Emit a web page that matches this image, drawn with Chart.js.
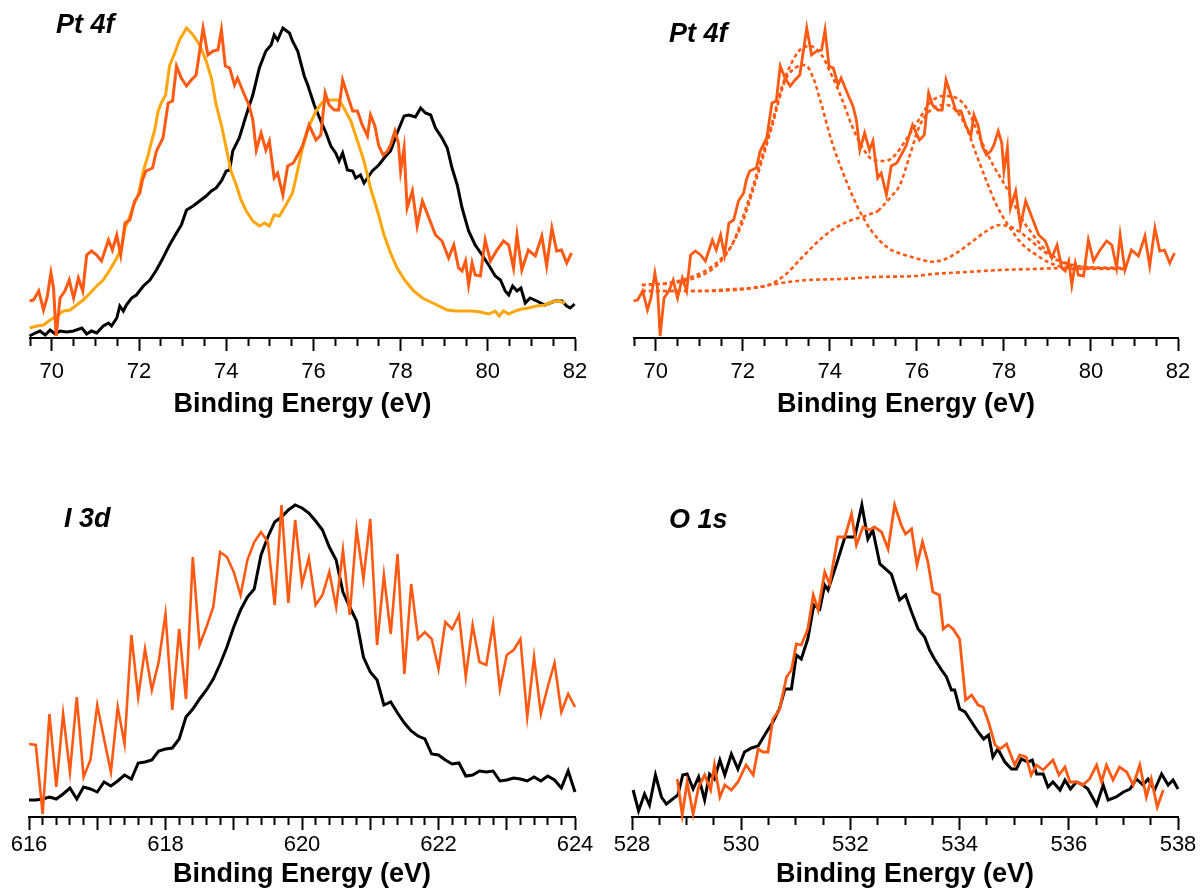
<!DOCTYPE html>
<html>
<head>
<meta charset="utf-8">
<title>XPS spectra</title>
<script src="https://cdn.jsdelivr.net/npm/chart.js@4.4.1/dist/chart.umd.min.js"></script>
<style>
  html, body { margin: 0; padding: 0; background: #fff; }
  body { width: 1202px; height: 896px; position: relative; overflow: hidden; }
  canvas { position: absolute; }
</style>
</head>
<body>
<canvas id="ptCompare" width="601" height="430" style="left:0;top:0"></canvas>
<canvas id="ptFit" width="601" height="430" style="left:601px;top:0"></canvas>
<canvas id="iodine" width="601" height="416" style="left:0;top:480px"></canvas>
<canvas id="oxygen" width="601" height="416" style="left:601px;top:480px"></canvas>
<script>
// Pt 4f, I 3d and O 1s XPS spectra: [binding energy (eV), intensity (a.u.)]

const ptRef = [[69.49,2],[69.62,5],[69.73,7],[69.85,3],[69.96,8],[70.08,4],[70.19,7],[70.34,6],[70.5,7],[70.69,10],[70.8,4],[70.91,7],[71.03,5],[71.18,12],[71.3,15],[71.37,12],[71.49,20],[71.56,32],[71.64,27],[71.71,33],[71.83,40],[71.94,43],[72.1,52],[72.25,58],[72.4,68],[72.55,80],[72.7,93],[72.86,105],[72.97,113],[73.09,128],[73.24,132],[73.39,137],[73.54,142],[73.66,147],[73.77,150],[73.89,157],[74.0,167],[74.08,168],[74.15,187],[74.3,200],[74.46,223],[74.61,243],[74.76,270],[74.91,287],[75.03,293],[75.1,303],[75.18,298],[75.3,310],[75.45,305],[75.52,297],[75.64,287],[75.79,262],[75.87,253],[76.02,233],[76.17,217],[76.29,205],[76.4,192],[76.51,185],[76.59,177],[76.67,185],[76.78,168],[76.9,167],[76.97,160],[77.08,163],[77.16,155],[77.24,160],[77.35,167],[77.5,173],[77.66,182],[77.77,187],[77.92,205],[78.08,222],[78.19,223],[78.34,221],[78.46,230],[78.57,225],[78.69,223],[78.8,210],[78.95,200],[79.07,190],[79.18,170],[79.3,153],[79.41,130],[79.56,107],[79.71,93],[79.87,83],[80.02,73],[80.17,62],[80.29,58],[80.4,47],[80.48,43],[80.57,52],[80.67,47],[80.76,50],[80.86,35],[80.97,40],[81.12,37],[81.31,33],[81.54,37],[81.7,37],[81.81,32],[81.89,30],[81.99,34]];

const ptSample = [[69.49,37],[69.58,38],[69.7,47],[69.81,28],[69.89,40],[69.98,65],[70.04,50],[70.1,2],[70.19,40],[70.3,47],[70.4,58],[70.5,40],[70.61,60],[70.71,47],[70.8,83],[70.91,87],[71.03,83],[71.14,77],[71.3,98],[71.39,88],[71.49,103],[71.58,83],[71.68,115],[71.79,118],[71.9,137],[72.02,145],[72.08,158],[72.16,167],[72.31,170],[72.4,187],[72.55,200],[72.67,235],[72.77,237],[72.86,272],[72.97,260],[73.09,252],[73.2,258],[73.31,263],[73.47,310],[73.58,283],[73.7,287],[73.81,288],[73.89,308],[73.98,272],[74.08,270],[74.19,253],[74.26,260],[74.42,243],[74.53,232],[74.61,218],[74.69,188],[74.8,205],[74.91,188],[74.99,197],[75.1,160],[75.18,165],[75.3,143],[75.41,172],[75.54,175],[75.64,183],[75.75,192],[75.9,213],[76.06,198],[76.17,203],[76.27,245],[76.36,233],[76.48,228],[76.58,228],[76.67,258],[76.78,243],[76.9,227],[77.01,227],[77.12,213],[77.24,202],[77.31,223],[77.41,212],[77.5,192],[77.6,183],[77.7,187],[77.77,193],[77.87,207],[77.95,195],[78.0,167],[78.08,190],[78.15,130],[78.27,147],[78.38,112],[78.5,137],[78.65,120],[78.8,103],[78.95,97],[79.1,80],[79.22,93],[79.33,70],[79.41,67],[79.49,77],[79.56,53],[79.64,75],[79.71,63],[79.83,62],[79.94,98],[80.06,77],[80.21,88],[80.36,97],[80.48,93],[80.59,70],[80.67,103],[80.78,68],[80.93,88],[81.09,82],[81.24,102],[81.35,72],[81.47,110],[81.58,87],[81.69,88],[81.81,75],[81.92,85]];

const ptAnnealed = [[69.49,10],[69.66,12],[69.81,13],[69.96,18],[70.11,22],[70.27,27],[70.42,28],[70.57,33],[70.72,38],[70.88,45],[71.03,52],[71.18,58],[71.33,68],[71.49,80],[71.6,90],[71.68,110],[71.75,117],[71.87,132],[71.98,143],[72.1,167],[72.21,183],[72.29,197],[72.36,208],[72.44,227],[72.51,235],[72.61,243],[72.7,272],[72.82,285],[72.93,298],[73.09,310],[73.24,303],[73.39,293],[73.54,277],[73.66,260],[73.77,233],[73.89,213],[74.0,190],[74.11,167],[74.23,153],[74.34,138],[74.46,127],[74.61,117],[74.76,112],[74.88,115],[74.99,112],[75.1,123],[75.22,122],[75.37,133],[75.52,145],[75.6,160],[75.75,190],[75.9,212],[76.06,227],[76.21,236],[76.36,238],[76.59,238],[76.7,230],[76.86,217],[77.01,197],[77.16,177],[77.31,150],[77.47,127],[77.62,103],[77.77,85],[77.92,70],[78.11,57],[78.3,47],[78.5,40],[78.69,36],[78.88,32],[79.07,28],[79.26,27],[79.45,27],[79.64,27],[79.83,26],[80.02,24],[80.17,27],[80.26,22],[80.36,27],[80.48,24],[80.63,27],[80.78,29],[80.93,30],[81.12,32],[81.31,33],[81.47,36],[81.62,37],[81.77,35]];

// Pt 4f peak fit of the sample spectrum
const fitBackground = [[69.68,47],[70.83,47],[71.82,48],[72.36,51],[72.89,55],[73.5,58],[74.27,59],[75.04,61],[75.95,62],[76.38,64],[77.14,66],[77.91,68],[78.67,69],[79.44,70],[80.2,70],[80.81,70]];
const fitEnvelope = [[69.68,53],[70.29,55],[70.75,60],[71.13,67],[71.52,80],[71.75,93],[71.97,117],[72.2,147],[72.43,180],[72.66,213],[72.89,250],[73.12,275],[73.31,288],[73.54,292],[73.81,283],[74.04,263],[74.27,240],[74.5,213],[74.73,192],[75.0,178],[75.27,177],[75.5,183],[75.73,197],[76.07,220],[76.3,235],[76.6,242],[76.91,240],[77.14,230],[77.45,200],[77.75,173],[78.06,150],[78.36,123],[78.67,103],[78.98,87],[79.28,78],[79.59,73],[80.2,70],[80.81,69]];
const fitPeak1 = [[69.68,53],[70.75,58],[71.52,78],[71.97,113],[72.2,143],[72.66,210],[72.97,257],[73.2,270],[73.43,273],[73.62,260],[73.81,233],[74.04,197],[74.35,160],[74.65,130],[74.96,107],[75.34,90],[75.8,82],[76.3,76]];
const fitPeak2 = [[69.68,47],[71.0,47],[71.82,49],[72.2,50],[72.59,53],[72.97,63],[73.35,80],[73.74,97],[74.12,110],[74.5,118],[74.81,122],[75.11,127]];
const fitPeak3 = [[75.11,127],[75.42,142],[75.61,153],[75.84,183],[76.07,213],[76.38,230],[76.68,233],[76.91,227],[77.14,210],[77.37,183],[77.6,157],[77.83,133],[78.14,110],[78.44,93],[78.75,83],[79.06,75],[79.44,70],[79.8,69],[80.81,69]];
const fitPeak4 = [[76.3,76],[76.6,78],[76.91,85],[77.29,97],[77.6,107],[77.91,113],[78.21,110],[78.52,101],[78.82,90],[79.13,80],[79.44,74],[79.74,71],[80.81,70]];

const i3dRef = [[616.0,17],[616.1,17],[616.2,18],[616.3,20],[616.4,18],[616.5,23],[616.6,29],[616.7,18],[616.8,30],[616.9,28],[617.0,25],[617.1,35],[617.2,31],[617.3,36],[617.4,42],[617.5,38],[617.6,54],[617.7,55],[617.8,57],[617.9,66],[618.0,68],[618.1,69],[618.2,78],[618.3,100],[618.4,108],[618.5,118],[618.6,127],[618.7,138],[618.8,153],[618.9,170],[619.0,190],[619.1,207],[619.2,220],[619.3,228],[619.4,262],[619.5,280],[619.6,295],[619.7,300],[619.8,307],[619.9,312],[620.0,309],[620.1,304],[620.2,296],[620.3,287],[620.4,270],[620.5,257],[620.6,225],[620.7,210],[620.8,196],[620.9,160],[621.0,145],[621.1,137],[621.2,112],[621.3,115],[621.4,104],[621.5,94],[621.6,86],[621.7,81],[621.8,78],[621.9,63],[622.0,62],[622.1,57],[622.2,53],[622.3,54],[622.4,41],[622.5,42],[622.6,46],[622.7,45],[622.8,46],[622.9,36],[623.0,37],[623.1,39],[623.2,38],[623.3,36],[623.4,40],[623.5,36],[623.6,41],[623.7,37],[623.8,29],[623.9,46],[624.0,25]];

const i3dSample = [[616.0,73],[616.1,72],[616.2,3],[616.3,103],[616.4,30],[616.5,103],[616.6,45],[616.7,120],[616.8,40],[616.9,57],[617.0,112],[617.1,78],[617.2,45],[617.3,110],[617.4,73],[617.5,182],[617.6,120],[617.7,168],[617.8,127],[617.9,155],[618.0,203],[618.1,107],[618.2,188],[618.3,118],[618.4,260],[618.5,172],[618.6,190],[618.7,210],[618.8,265],[618.9,260],[619.0,245],[619.1,222],[619.2,257],[619.3,275],[619.4,285],[619.5,275],[619.6,212],[619.7,312],[619.8,214],[619.9,297],[620.0,233],[620.1,259],[620.2,212],[620.3,222],[620.4,245],[620.5,210],[620.6,267],[620.7,202],[620.8,288],[620.9,238],[621.0,298],[621.1,172],[621.2,242],[621.3,183],[621.4,263],[621.5,143],[621.6,233],[621.7,178],[621.8,185],[621.9,178],[622.0,148],[622.1,195],[622.2,188],[622.3,202],[622.4,140],[622.5,192],[622.6,155],[622.7,152],[622.8,193],[622.9,128],[623.0,162],[623.1,167],[623.2,178],[623.3,100],[623.4,160],[623.5,103],[623.6,130],[623.7,154],[623.8,105],[623.9,123],[624.0,110]];

const o1sRef = [[528.02,27],[528.12,6],[528.23,23],[528.32,12],[528.43,42],[528.54,20],[528.63,13],[528.84,22],[528.93,42],[529.01,43],[529.12,28],[529.22,40],[529.33,17],[529.42,43],[529.51,38],[529.61,57],[529.7,42],[529.82,63],[529.94,48],[530.06,65],[530.19,69],[530.31,71],[530.43,82],[530.58,95],[530.7,108],[530.8,128],[530.92,128],[531.01,162],[531.1,158],[531.22,178],[531.33,212],[531.44,208],[531.53,232],[531.59,227],[531.74,252],[531.9,280],[532.08,280],[532.21,312],[532.32,278],[532.41,287],[532.54,253],[532.75,243],[532.9,217],[533.01,222],[533.12,205],[533.24,188],[533.36,180],[533.45,167],[533.54,158],[533.67,147],[533.76,140],[533.85,127],[533.91,127],[534.0,108],[534.1,105],[534.22,95],[534.34,85],[534.44,78],[534.53,82],[534.61,60],[534.7,68],[534.83,55],[534.95,48],[535.04,48],[535.13,58],[535.25,55],[535.33,57],[535.41,43],[535.53,43],[535.62,30],[535.71,35],[535.84,27],[535.93,37],[536.03,28],[536.14,35],[536.23,33],[536.35,28],[536.51,12],[536.63,32],[536.72,17],[536.87,20],[537.0,25],[537.12,28],[537.24,38],[537.36,32],[537.45,38],[537.57,27],[537.7,43],[537.82,32],[537.91,37],[538.0,28]];

const o1sSample = [[528.83,38],[528.92,2],[529.01,35],[529.12,3],[529.22,30],[529.33,42],[529.44,27],[529.51,52],[529.61,20],[529.7,32],[529.82,27],[529.94,35],[530.09,52],[530.22,42],[530.31,68],[530.4,65],[530.49,65],[530.58,98],[530.7,107],[530.83,140],[530.92,147],[531.01,173],[531.1,172],[531.22,188],[531.32,222],[531.41,207],[531.53,245],[531.62,233],[531.77,280],[531.9,280],[532.02,303],[532.11,272],[532.23,290],[532.35,287],[532.44,290],[532.57,285],[532.69,268],[532.81,312],[532.93,292],[533.01,283],[533.12,288],[533.22,252],[533.32,275],[533.42,255],[533.51,225],[533.63,222],[533.7,188],[533.79,192],[533.88,188],[534.0,178],[534.06,145],[534.11,117],[534.22,122],[534.34,112],[534.43,110],[534.53,95],[534.65,72],[534.74,68],[534.86,73],[535.01,52],[535.1,62],[535.22,60],[535.31,42],[535.41,52],[535.53,47],[535.71,57],[535.82,42],[535.93,50],[536.02,35],[536.14,35],[536.26,32],[536.38,38],[536.51,52],[536.6,35],[536.69,52],[536.81,37],[536.93,50],[537.06,45],[537.18,32],[537.3,52],[537.42,20],[537.51,38],[537.62,10],[537.73,27]];

const BLACK = '#000000';
const ORANGE = '#ff5a14';
const AMBER = '#ffa60d';
const FONT = '"Liberation Sans", Arial, Helvetica, sans-serif';

const pts = arr => arr.map(([x, y]) => ({ x, y }));

function trace(data, color, width) {
  return { data: pts(data), borderColor: color, borderWidth: width, pointRadius: 0, tension: 0, fill: false, clip: 6 };
}

function fitCurve(data) {
  return {
    data: pts(data), borderColor: ORANGE, borderWidth: 2.6, borderDash: [4, 3],
    pointRadius: 0, tension: 0.4, cubicInterpolationMode: 'monotone', fill: false, clip: 6
  };
}

const onStep = (v, step) => Math.abs(v / step - Math.round(v / step)) < 1e-6;

function energyAxis(min, max, step, majorEvery, labelPad, height, titlePad) {
  return {
    type: 'linear', min, max,
    afterBuildTicks: s => {
      const t = [];
      for (let v = min; v <= max + 1e-9; v += step) t.push({ value: +v.toFixed(2) });
      s.ticks = t;
    },
    afterFit: s => { s.height = height; },
    border: { display: true, color: BLACK, width: 2 },
    grid: {
      display: true, drawOnChartArea: false, drawTicks: true,
      tickLength: 13, tickColor: BLACK, tickWidth: 2,
      // short minor ticks, full-length ticks on major values
      tickBorderDash: ctx => onStep(ctx.tick.value, majorEvery) ? [] : [7, 30]
    },
    ticks: {
      autoSkip: false, maxRotation: 0, minRotation: 0, padding: labelPad, color: BLACK,
      font: { family: FONT, size: 22 },
      callback: v => onStep(v, 2) ? String(Math.round(v)) : ''
    },
    title: {
      display: true, text: 'Binding Energy (eV)', color: BLACK,
      font: { family: FONT, size: 27, weight: 'bold' },
      padding: { top: 0, bottom: titlePad }
    }
  };
}

function panelLabel(text, x, y) {
  return {
    id: 'panelLabel',
    afterDraw(chart) {
      const c = chart.ctx;
      c.save();
      c.font = 'italic bold 27px ' + FONT;
      c.fillStyle = BLACK;
      c.textBaseline = 'alphabetic';
      c.fillText(text, x, y);
      c.restore();
    }
  };
}

function spectrum(id, datasets, xAxis, padding, label) {
  return new Chart(document.getElementById(id), {
    type: 'line',
    data: { datasets },
    options: {
      responsive: false,
      animation: false,
      events: [],
      layout: { padding },
      plugins: { legend: { display: false }, tooltip: { enabled: false } },
      scales: {
        x: xAxis,
        y: { display: false, min: 0, max: 320 }
      }
    },
    plugins: [panelLabel(label.text, label.x, label.y)]
  });
}

spectrum('ptCompare',
  [trace(ptSample, ORANGE, 3), trace(ptAnnealed, AMBER, 3), trace(ptRef, BLACK, 3)],
  energyAxis(69.5, 82, 0.5, 2, 8, 84, 1),
  { left: 30, right: 26, top: 18, bottom: 8 },
  { text: 'Pt 4f', x: 56, y: 33 });

spectrum('ptFit',
  [trace(ptSample, ORANGE, 2.8), fitCurve(fitEnvelope), fitCurve(fitPeak1), fitCurve(fitPeak2),
   fitCurve(fitPeak3), fitCurve(fitPeak4), fitCurve(fitBackground)],
  energyAxis(69.5, 82, 0.5, 2, 8, 84, 1),
  { left: 33, right: 24, top: 18, bottom: 8 },
  { text: 'Pt 4f', x: 68, y: 42 });

spectrum('iodine',
  [trace(i3dSample, ORANGE, 2.6), trace(i3dRef, BLACK, 3)],
  energyAxis(616, 624, 0.2, 1, 2, 79, 5),
  { left: 29, right: 26, top: 17, bottom: 0 },
  { text: 'I 3d', x: 64, y: 47 });

spectrum('oxygen',
  [trace(o1sSample, ORANGE, 2.8), trace(o1sRef, BLACK, 3)],
  energyAxis(528, 538, 0.5, 2, 2, 79, 5),
  { left: 31, right: 24, top: 17, bottom: 0 },
  { text: 'O 1s', x: 68, y: 48 });
</script>
</body>
</html>
